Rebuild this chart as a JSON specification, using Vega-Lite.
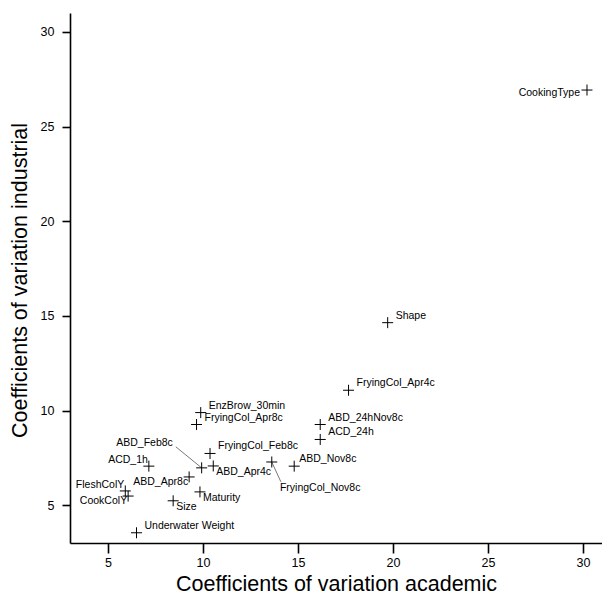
{
  "$schema": "https://vega.github.io/schema/vega-lite/v6.json",
  "width": 532,
  "height": 530,
  "autosize": "none",
  "padding": {"left": 70, "top": 13, "right": 0, "bottom": 54},
  "background": "white",
  "config": {
    "view": {"stroke": null},
    "font": "Liberation Sans",
    "axis": {
      "grid": false,
      "domainColor": "black",
      "domainWidth": 1.6,
      "tickColor": "black",
      "tickWidth": 1.6,
      "labelColor": "black",
      "titleColor": "black",
      "labelFont": "Liberation Sans",
      "titleFont": "Liberation Sans",
      "labelFontSize": 12.5,
      "titleFontSize": 21.5,
      "titleFontWeight": "normal"
    }
  },
  "datasets": {
    "points": [
      {"name": "CookingType", "academic": 30.21, "industrial": 26.93},
      {"name": "Shape", "academic": 19.72, "industrial": 14.64},
      {"name": "FryingCol_Apr4c", "academic": 17.66, "industrial": 11.07},
      {"name": "ABD_24hNov8c", "academic": 16.17, "industrial": 9.26},
      {"name": "ACD_24h", "academic": 16.17, "industrial": 8.47},
      {"name": "ABD_Nov8c", "academic": 14.8, "industrial": 7.06},
      {"name": "FryingCol_Nov8c", "academic": 13.62, "industrial": 7.28},
      {"name": "EnzBrow_30min", "academic": 9.88, "industrial": 9.89},
      {"name": "FryingCol_Apr8c", "academic": 9.66, "industrial": 9.26},
      {"name": "FryingCol_Feb8c", "academic": 10.37, "industrial": 7.73},
      {"name": "ABD_Feb8c", "academic": 9.93, "industrial": 6.97},
      {"name": "ABD_Apr4c", "academic": 10.54, "industrial": 7.07},
      {"name": "ACD_1h", "academic": 7.15, "industrial": 7.06},
      {"name": "ABD_Apr8c", "academic": 9.27, "industrial": 6.49},
      {"name": "Maturity", "academic": 9.84, "industrial": 5.7},
      {"name": "Size", "academic": 8.43, "industrial": 5.23},
      {"name": "FleshColY", "academic": 5.91, "industrial": 5.75},
      {"name": "CookColY", "academic": 6.06, "industrial": 5.48},
      {"name": "Underwater Weight", "academic": 6.5, "industrial": 3.54}
    ],
    "leaders": [
      {"name": "ABD_Feb8c", "academic": 9.93, "industrial": 6.97, "label_academic": 8.57, "label_industrial": 8.08},
      {"name": "FryingCol_Nov8c", "academic": 13.62, "industrial": 7.28, "label_academic": 14.1, "label_industrial": 6.23}
    ]
  },
  "layer": [
    {
      "data": {"name": "leaders"},
      "mark": {"type": "rule", "color": "#555555", "strokeWidth": 0.8},
      "encoding": {
        "x": {"field": "academic", "type": "quantitative", "scale": {"domain": [3, 31], "nice": false, "zero": false},
          "axis": {"values": [5, 10, 15, 20, 25, 30], "tickSize": 10, "labelPadding": 3, "title": "Coefficients of variation academic", "titleY": 41, "titleBaseline": "middle"}},
        "y": {"field": "industrial", "type": "quantitative", "scale": {"domain": [3, 31], "nice": false, "zero": false},
          "axis": {"values": [5, 10, 15, 20, 25, 30], "tickSize": 8, "labelPadding": 8, "title": "Coefficients of variation industrial", "titleX": -50, "titleY": 267, "titleAngle": -90, "titleAlign": "center", "titleBaseline": "middle"}},
        "x2": {"field": "label_academic"},
        "y2": {"field": "label_industrial"}
      }
    },
    {
      "data": {"name": "points"},
      "mark": {"type": "point", "shape": "M-1,0L1,0M0,-1L0,1", "size": 121, "filled": false, "stroke": "black", "strokeWidth": 1, "opacity": 1},
      "encoding": {
        "x": {"field": "academic", "type": "quantitative"},
        "y": {"field": "industrial", "type": "quantitative"}
      }
    },
    {
      "data": {"name": "points"},
      "transform": [{"filter": {"field": "name", "oneOf": ["EnzBrow_30min", "FryingCol_Apr8c", "FryingCol_Feb8c", "ABD_24hNov8c", "ACD_24h", "Underwater Weight", "Shape", "FryingCol_Apr4c"]}}],
      "mark": {"type": "text", "align": "left", "baseline": "alphabetic", "dx": 8, "dy": -4, "fontSize": 10.5, "color": "black"},
      "encoding": {
        "x": {"field": "academic", "type": "quantitative"},
        "y": {"field": "industrial", "type": "quantitative"},
        "text": {"field": "name"}
      }
    },
    {
      "data": {"name": "points"},
      "transform": [{"filter": {"field": "name", "oneOf": ["ABD_Nov8c"]}}],
      "mark": {"type": "text", "align": "left", "baseline": "alphabetic", "dx": 5, "dy": -4, "fontSize": 10.5, "color": "black"},
      "encoding": {
        "x": {"field": "academic", "type": "quantitative"},
        "y": {"field": "industrial", "type": "quantitative"},
        "text": {"field": "name"}
      }
    },
    {
      "data": {"name": "points"},
      "transform": [{"filter": {"field": "name", "oneOf": ["ABD_Apr4c", "Maturity", "Size"]}}],
      "mark": {"type": "text", "align": "left", "baseline": "alphabetic", "dx": 3, "dy": 9, "fontSize": 10.5, "color": "black"},
      "encoding": {
        "x": {"field": "academic", "type": "quantitative"},
        "y": {"field": "industrial", "type": "quantitative"},
        "text": {"field": "name"}
      }
    },
    {
      "data": {"name": "points"},
      "transform": [{"filter": {"field": "name", "oneOf": ["ACD_1h", "FleshColY"]}}],
      "mark": {"type": "text", "align": "right", "baseline": "alphabetic", "dx": -1, "dy": -3, "fontSize": 10.5, "color": "black"},
      "encoding": {
        "x": {"field": "academic", "type": "quantitative"},
        "y": {"field": "industrial", "type": "quantitative"},
        "text": {"field": "name"}
      }
    },
    {
      "data": {"name": "points"},
      "transform": [{"filter": {"field": "name", "oneOf": ["ABD_Apr8c", "CookColY"]}}],
      "mark": {"type": "text", "align": "right", "baseline": "alphabetic", "dx": -1, "dy": 8, "fontSize": 10.5, "color": "black"},
      "encoding": {
        "x": {"field": "academic", "type": "quantitative"},
        "y": {"field": "industrial", "type": "quantitative"},
        "text": {"field": "name"}
      }
    },
    {
      "data": {"name": "points"},
      "transform": [{"filter": {"field": "name", "oneOf": ["CookingType"]}}],
      "mark": {"type": "text", "align": "right", "baseline": "alphabetic", "dx": -7, "dy": 6, "fontSize": 10.5, "color": "black"},
      "encoding": {
        "x": {"field": "academic", "type": "quantitative"},
        "y": {"field": "industrial", "type": "quantitative"},
        "text": {"field": "name"}
      }
    },
    {
      "data": {"name": "leaders"},
      "transform": [{"filter": {"field": "name", "oneOf": ["ABD_Feb8c"]}}],
      "mark": {"type": "text", "align": "right", "baseline": "alphabetic", "dx": -3, "dy": -1, "fontSize": 10.5, "color": "black"},
      "encoding": {
        "x": {"field": "label_academic", "type": "quantitative"},
        "y": {"field": "label_industrial", "type": "quantitative"},
        "text": {"field": "name"}
      }
    },
    {
      "data": {"name": "leaders"},
      "transform": [{"filter": {"field": "name", "oneOf": ["FryingCol_Nov8c"]}}],
      "mark": {"type": "text", "align": "left", "baseline": "alphabetic", "dx": -1, "dy": 9, "fontSize": 10.5, "color": "black"},
      "encoding": {
        "x": {"field": "label_academic", "type": "quantitative"},
        "y": {"field": "label_industrial", "type": "quantitative"},
        "text": {"field": "name"}
      }
    }
  ]
}
